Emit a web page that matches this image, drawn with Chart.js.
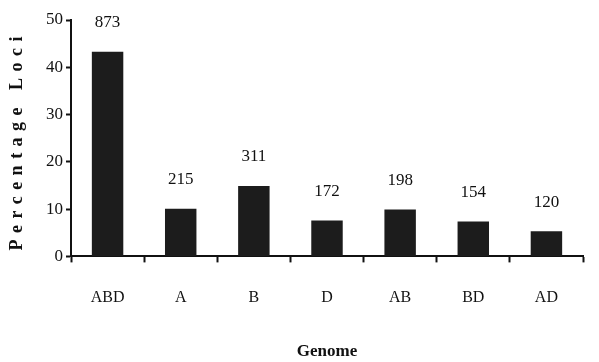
<!DOCTYPE html>
<html>
<head>
<meta charset="utf-8">
<script src="https://cdn.jsdelivr.net/npm/chart.js@4"></script>
<style>
  html, body { margin: 0; padding: 0; background: #fff; }
  #wrap { width: 599px; height: 362px; }
</style>
</head>
<body>
<div id="wrap"><canvas id="graficoGenoma"></canvas></div>
<script>
// =========================
// DADOS
// =========================

const genomes = ['ABD', 'A', 'B', 'D', 'AB', 'BD', 'AD'];
const percentLoci = [43.3, 10.1, 14.9, 7.6, 9.9, 7.4, 5.3];
const lociCounts = ['873', '215', '311', '172', '198', '154', '120'];
const yTicks = [0, 10, 20, 30, 40, 50];

const serif = '"Liberation Serif", "Times New Roman", serif';

// rótulos acima das barras
const countLabels = {
    id: 'countLabels',
    afterDatasetsDraw(chart) {
        const { ctx } = chart;
        const meta = chart.getDatasetMeta(0);
        ctx.save();
        ctx.fillStyle = '#111';
        ctx.font = '17px ' + serif;
        ctx.textAlign = 'center';
        ctx.textBaseline = 'middle';
        meta.data.forEach((bar, i) => {
            ctx.fillText(lociCounts[i], bar.x, bar.y - 29);
        });
        ctx.restore();
    }
};

// título do eixo Y com espaçamento entre letras
const yTitle = {
    id: 'yTitle',
    afterDraw(chart) {
        const { ctx, chartArea } = chart;
        ctx.save();
        ctx.translate(17, (chartArea.top + chartArea.bottom) / 2 + 2);
        ctx.rotate(-Math.PI / 2);
        ctx.letterSpacing = '6.5px';
        ctx.fillStyle = '#111';
        ctx.font = 'bold 18px ' + serif;
        ctx.textAlign = 'center';
        ctx.textBaseline = 'middle';
        ctx.fillText('Percentage Loci', 0, 0);
        ctx.restore();
    }
};

const el = document.getElementById('graficoGenoma');

if (el) {
    new Chart(el.getContext('2d'), {
        type: 'bar',
        data: {
            labels: genomes,
            datasets: [{
                label: 'Percentage Loci',
                data: percentLoci,
                backgroundColor: '#1c1c1c',
                borderWidth: 0,
                categoryPercentage: 1,
                barPercentage: 0.43
            }]
        },
        options: {
            responsive: true,
            maintainAspectRatio: false,
            animation: false,
            layout: {
                padding: { left: 43, right: 16, top: 20, bottom: 0 }
            },
            scales: {
                y: {
                    min: 0,
                    max: 50,
                    afterBuildTicks: (axis) => {
                        axis.ticks = yTicks.map(v => ({ value: v }));
                    },
                    grid: {
                        drawOnChartArea: false,
                        tickLength: 5,
                        tickWidth: 2,
                        tickColor: '#111'
                    },
                    border: { color: '#111', width: 2 },
                    ticks: {
                        color: '#111',
                        padding: 3,
                        font: { family: serif, size: 17 }
                    }
                },
                x: {
                    grid: {
                        offset: true,
                        drawOnChartArea: false,
                        tickLength: 6,
                        tickWidth: 2,
                        tickColor: '#111'
                    },
                    border: { color: '#111', width: 2 },
                    ticks: {
                        color: '#111',
                        padding: 26,
                        font: { family: serif, size: 16 }
                    },
                    title: {
                        display: true,
                        text: 'Genome',
                        color: '#111',
                        padding: { top: 8, bottom: 0 },
                        font: { family: serif, size: 17, weight: 'bold' }
                    }
                }
            },
            plugins: {
                legend: { display: false },
                tooltip: { enabled: false }
            }
        },
        plugins: [countLabels, yTitle]
    });
}
</script>
</body>
</html>
